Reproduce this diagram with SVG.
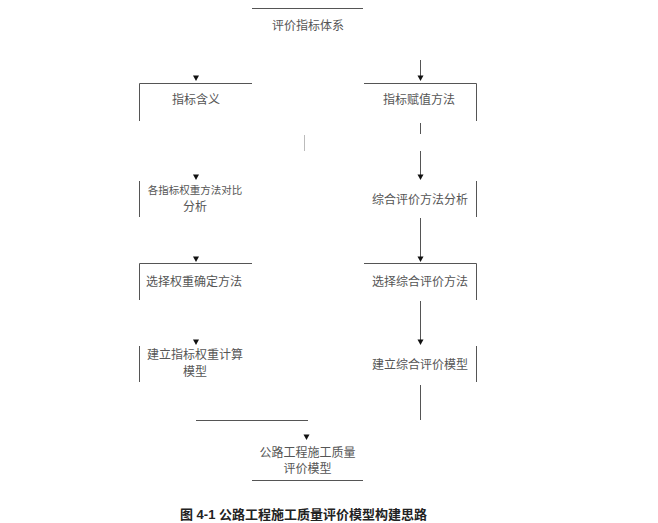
<svg xmlns="http://www.w3.org/2000/svg" width="658" height="523" viewBox="0 0 658 523">
<defs>
<style>
.ln{stroke:#555;stroke-width:1;fill:none}
.lt{stroke:#bbb;stroke-width:1;fill:none}
.t{font-family:"Liberation Sans","Noto Sans CJK SC",sans-serif;font-size:12px;fill:#555;text-anchor:middle}
.cap{font-family:"Liberation Sans","Noto Sans CJK SC",sans-serif;font-size:13px;font-weight:bold;fill:#222;text-anchor:middle}
.ah{fill:#111}
</style>
</defs>
<rect width="658" height="523" fill="#fff"/>
<g id="connectors">
<path class="ah" d="M193,75.5 L199,75.5 L196,81 Z"/>
<path class="ln" d="M420.5,60 V77"/>
<path class="ah" d="M417.5,75.5 L423.5,75.5 L420.5,81 Z"/>
<path class="ln" d="M420.5,123 V134 M420.5,151 V176"/>
<path class="ah" d="M417.5,174.5 L423.5,174.5 L420.5,180 Z"/>
<path class="lt" d="M304.5,135 V151"/>
<path class="ah" d="M193,174.5 L199,174.5 L196,180 Z"/>
<path class="ln" d="M420.5,218 V258"/>
<path class="ah" d="M417.5,256.5 L423.5,256.5 L420.5,262 Z"/>
<path class="ah" d="M193,256.5 L199,256.5 L196,262 Z"/>
<path class="ln" d="M420.5,301 V341"/>
<path class="ah" d="M417.5,339.5 L423.5,339.5 L420.5,345 Z"/>
<path class="ah" d="M193,339.5 L199,339.5 L196,345 Z"/>
<path class="ln" d="M420.5,385 V420"/>
<path class="ln" d="M196,420.5 H308"/>
<path class="ah" d="M303.5,434.5 L309.5,434.5 L306.5,440 Z"/>
</g>
<g id="n_top">
<path class="ln" d="M252,8.5 H363"/>
<text class="t" x="308" y="30">评价指标体系</text>
</g>
<g id="n_def">
<path class="ln" d="M139.5,121 V83.5 H252"/>
<text class="t" x="196" y="104">指标含义</text>
</g>
<g id="n_assign">
<path class="ln" d="M364,83.5 H476.5 V121"/>
<text class="t" x="419" y="104">指标赋值方法</text>
</g>
<g id="n_wcomp">
<path class="ln" d="M139.5,181 V217"/>
<text class="t" x="195" y="194" style="font-size:10.5px">各指标权重方法对比</text>
<text class="t" x="195" y="211">分析</text>
</g>
<g id="n_ccomp">
<path class="ln" d="M476.5,181 V217"/>
<text class="t" x="420" y="204">综合评价方法分析</text>
</g>
<g id="n_wsel">
<path class="ln" d="M139.5,300 V263.5 H252"/>
<text class="t" x="194" y="286">选择权重确定方法</text>
</g>
<g id="n_csel">
<path class="ln" d="M364,263.5 H476.5 V300"/>
<text class="t" x="420" y="286">选择综合评价方法</text>
</g>
<g id="n_wmodel">
<path class="ln" d="M139.5,346 V382"/>
<text class="t" x="195" y="359">建立指标权重计算</text>
<text class="t" x="195" y="376">模型</text>
</g>
<g id="n_cmodel">
<path class="ln" d="M476.5,346 V382"/>
<text class="t" x="420" y="369">建立综合评价模型</text>
</g>
<g id="n_final">
<text class="t" x="307.5" y="457">公路工程施工质量</text>
<text class="t" x="307.5" y="473">评价模型</text>
<path class="ln" d="M252,480.5 H363"/>
</g>
<text class="cap" x="303.5" y="519">图 4-1  公路工程施工质量评价模型构建思路</text>
</svg>
